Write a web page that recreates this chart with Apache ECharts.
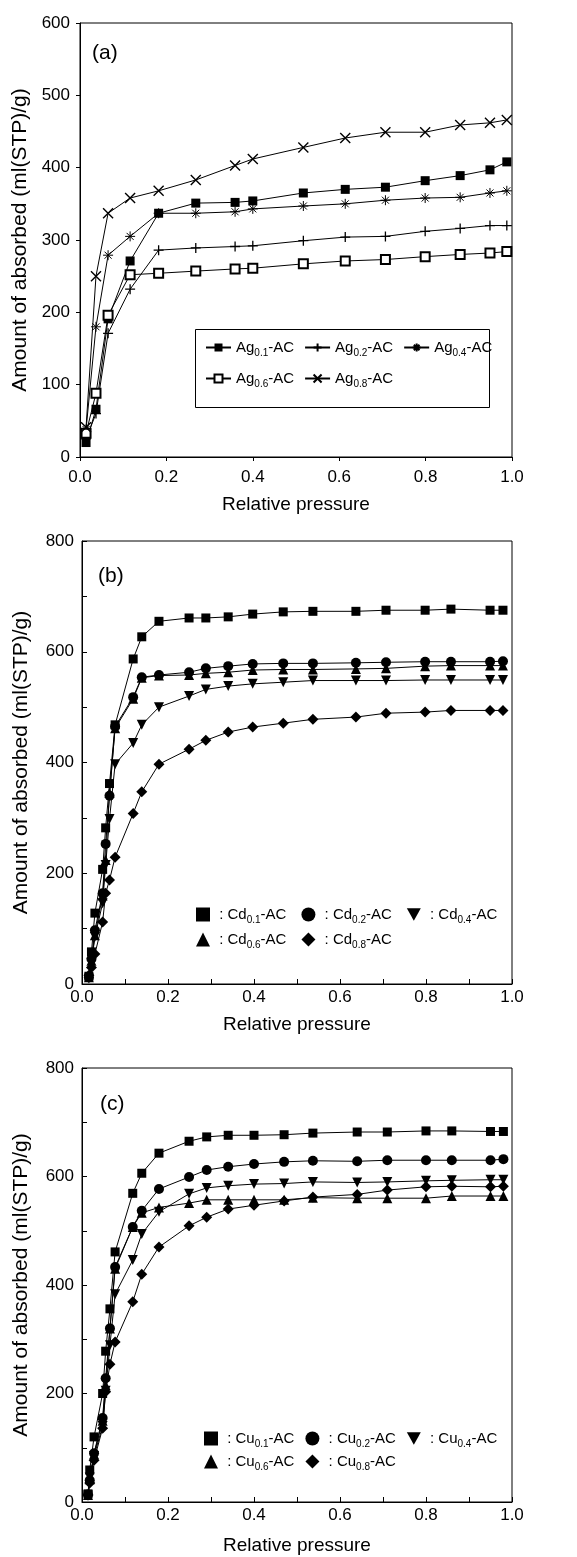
<!DOCTYPE html>
<html>
<head>
<meta charset="utf-8">
<script src="https://cdn.jsdelivr.net/npm/echarts@6/dist/echarts.min.js"></script>
<style>
  html, body { margin: 0; padding: 0; background: #fff; }
  #chart { width: 577px; height: 1557px; }
</style>
</head>
<body>
<div id="chart"></div>
<script>
// (a) Ag series
const agP = [0.014, 0.037, 0.065, 0.116, 0.182, 0.268, 0.359, 0.40, 0.517, 0.614, 0.707, 0.799, 0.88, 0.949, 0.988];
const ag01 = [20, 66, 191, 271, 337, 351, 352, 354, 365, 370, 373, 382, 389, 397, 408];
const ag02 = [25, 60, 171, 232, 286, 289, 291, 292, 299, 304, 305, 312, 316, 320, 320];
const ag04 = [38, 180, 279, 305, 337, 337, 339, 343, 347, 350, 355, 358, 359, 365, 368];
const ag06 = [33, 88, 196, 252, 254, 257, 260, 261, 267, 271, 273, 277, 280, 282, 284];
const ag08 = [41, 250, 337, 358, 368, 383, 403, 412, 428, 441, 449, 449, 459, 462, 466];

// (b) Cd series
const cdP = [0.016, 0.022, 0.03, 0.048, 0.055, 0.064, 0.077, 0.119, 0.139, 0.179, 0.249, 0.288, 0.34, 0.397, 0.468, 0.537, 0.637, 0.707, 0.798, 0.858, 0.949, 0.979];
const cd01 = [14, 58, 128, 207, 282, 362, 468, 587, 627, 655, 661, 661, 663, 668, 672, 673, 673, 675, 675, 677, 675, 675];
const cd02 = [12, 45, 97, 164, 253, 340, 465, 518, 554, 558, 563, 570, 574, 578, 579, 579, 580, 581, 582, 582, 582, 583];
const cd04 = [10, 38, 85, 146, 215, 298, 397, 435, 468, 500, 520, 532, 538, 542, 545, 548, 548, 548, 549, 549, 549, 549];
const cd06 = [12, 42, 88, 160, 224, 345, 462, 515, 553, 557, 558, 561, 563, 567, 568, 568, 569, 570, 574, 575, 575, 575];
const cd08 = [16, 30, 54, 112, 164, 188, 229, 308, 347, 397, 424, 440, 455, 464, 471, 478, 482, 489, 491, 494, 494, 494];

// (c) Cu series
const cuP = [0.014, 0.018, 0.028, 0.048, 0.055, 0.065, 0.077, 0.118, 0.139, 0.179, 0.249, 0.29, 0.34, 0.40, 0.47, 0.537, 0.64, 0.71, 0.80, 0.86, 0.95, 0.98];
const cu01 = [15, 59, 120, 200, 278, 356, 461, 569, 606, 643, 665, 673, 676, 676, 677, 680, 682, 682, 684, 684, 683, 683];
const cu02 = [14, 40, 90, 155, 228, 320, 433, 507, 537, 577, 599, 612, 618, 623, 627, 629, 628, 630, 630, 630, 630, 632];
const cu04 = [12, 45, 85, 140, 205, 289, 383, 446, 494, 535, 568, 579, 583, 586, 587, 590, 589, 590, 592, 593, 594, 594];
const cu06 = [13, 42, 88, 150, 215, 320, 430, 507, 533, 543, 551, 557, 557, 557, 557, 561, 560, 560, 560, 564, 564, 564];
const cu08 = [13, 35, 77, 136, 203, 254, 295, 369, 420, 470, 509, 525, 540, 547, 555, 562, 567, 575, 581, 582, 581, 582];

const xTitle = "Relative pressure";
const yTitle = "Amount of absorbed (ml(STP)/g)";

const PLUS = "path://M0,5L10,5M5,0L5,10";
const CROSS = "path://M0,0L10,10M10,0L0,10";
const STAR = "path://M0,5L10,5M5,0L5,10M1.5,1.5L8.5,8.5M8.5,1.5L1.5,8.5";
const DOWN = "path://M0,0L10,0L5,9Z";

const FONT = "Liberation Sans";

function zip(xs, ys) {
  return xs.map((x, i) => [x, ys[i]]);
}

function line(name, idx, xs, ys, symbol, size, extra) {
  return Object.assign({
    name: name,
    type: "line",
    xAxisIndex: idx,
    yAxisIndex: idx,
    data: zip(xs, ys),
    symbol: symbol,
    symbolSize: size,
    showAllSymbol: true,
    animation: false,
    lineStyle: { color: "#000", width: 1 },
    itemStyle: { color: "#000", borderColor: "#000", borderWidth: 0 },
  }, extra || {});
}

function xAxis(idx, inside, margin, nameGap) {
  return {
    gridIndex: idx, type: "value", min: 0, max: 1, interval: 0.2,
    axisLine: { show: true, lineStyle: { color: "#000", width: 1 } },
    axisTick: { show: true, inside: inside, length: inside ? 5 : 4, lineStyle: { color: "#000" } },
    minorTick: { show: inside, splitNumber: 2, length: 5, lineStyle: { color: "#000" } },
    axisLabel: { color: "#000", fontSize: 17, fontFamily: FONT, margin: margin, formatter: (v) => v.toFixed(1) },
    splitLine: { show: false },
    name: xTitle, nameLocation: "middle", nameGap: nameGap,
    nameTextStyle: { color: "#000", fontSize: 19, fontFamily: FONT },
  };
}

function yAxis(idx, max, interval, inside, margin, nameGap) {
  return {
    gridIndex: idx, type: "value", min: 0, max: max, interval: interval,
    axisLine: { show: true, lineStyle: { color: "#000", width: 1 } },
    axisTick: { show: true, inside: inside, length: inside ? 5 : 4, lineStyle: { color: "#000" } },
    minorTick: { show: inside, splitNumber: 2, length: 5, lineStyle: { color: "#000" } },
    axisLabel: { color: "#000", fontSize: 17, fontFamily: FONT, margin: margin },
    splitLine: { show: false },
    name: yTitle, nameLocation: "middle", nameGap: nameGap,
    nameTextStyle: { color: "#000", fontSize: 21, fontFamily: FONT },
  };
}

const rich = {
  n: { fontSize: 15, lineHeight: 22, fontFamily: FONT, color: "#000" },
  s: { fontSize: 10, lineHeight: 10, verticalAlign: "bottom", fontFamily: FONT, color: "#000" },
};

function subName(name, prefix) {
  const el = name.slice(0, 2);
  const sub = name.slice(2, name.indexOf("-"));
  return "{n|" + prefix + el + "}{s|" + sub + "}{n|-AC}";
}

function legend(data, left, top, gap, iw, ih, prefix) {
  return {
    data: data, left: left, top: top, orient: "horizontal",
    padding: 0, itemGap: gap, itemWidth: iw, itemHeight: ih,
    selectedMode: false,
    formatter: (n) => subName(n, prefix),
    textStyle: { rich: rich, fontFamily: FONT },
  };
}

const option = {
  backgroundColor: "#fff",
  animation: false,
  textStyle: { fontFamily: FONT },
  title: [
    { text: "(a)", left: 92, top: 43, textStyle: { fontSize: 21, fontWeight: "normal", color: "#000", fontFamily: FONT }, padding: 0 },
    { text: "(b)", left: 98, top: 566, textStyle: { fontSize: 21, fontWeight: "normal", color: "#000", fontFamily: FONT }, padding: 0 },
    { text: "(c)", left: 100, top: 1094, textStyle: { fontSize: 21, fontWeight: "normal", color: "#000", fontFamily: FONT }, padding: 0 },
  ],
  grid: [
    { left: 80, top: 23, width: 432, height: 434, show: true, borderColor: "#000", borderWidth: 1 },
    { left: 82, top: 541, width: 430, height: 443, show: true, borderColor: "#000", borderWidth: 1 },
    { left: 82, top: 1068, width: 430, height: 434, show: true, borderColor: "#000", borderWidth: 1 },
  ],
  xAxis: [xAxis(0, false, 12, 38), xAxis(1, true, 5, 31), xAxis(2, true, 5, 34)],
  yAxis: [yAxis(0, 600, 100, false, 10, 43), yAxis(1, 800, 200, true, 8, 50), yAxis(2, 800, 200, true, 8, 50)],
  legend: [
    legend(["Ag0.1-AC", "Ag0.2-AC", "Ag0.4-AC"], 205, 340, 10, 25, 10, ""),
    legend(["Ag0.6-AC", "Ag0.8-AC"], 205, 371, 10, 25, 10, ""),
    legend([{ name: "Cd0.1-AC", icon: "rect" }, { name: "Cd0.2-AC", icon: "circle" }, { name: "Cd0.4-AC", icon: DOWN }], 196, 907, 15, 14, 14, " : "),
    legend([{ name: "Cd0.6-AC", icon: "triangle" }, { name: "Cd0.8-AC", icon: "diamond" }], 196, 932, 15, 14, 14, " : "),
    legend([{ name: "Cu0.1-AC", icon: "rect" }, { name: "Cu0.2-AC", icon: "circle" }, { name: "Cu0.4-AC", icon: DOWN }], 204, 1431, 11, 14, 14, " : "),
    legend([{ name: "Cu0.6-AC", icon: "triangle" }, { name: "Cu0.8-AC", icon: "diamond" }], 204, 1454, 11, 14, 14, " : "),
  ],
  graphic: [
    { type: "rect", left: 195, top: 329, shape: { width: 294, height: 78 }, style: { fill: "transparent", stroke: "#000", lineWidth: 1 }, silent: true },
  ],
  series: [
    line("Ag0.1-AC", 0, agP, ag01, "rect", 9),
    line("Ag0.2-AC", 0, agP, ag02, PLUS, 10, { itemStyle: { color: "#000", borderColor: "#000", borderWidth: 1.3 } }),
    line("Ag0.4-AC", 0, agP, ag04, STAR, 10, { itemStyle: { color: "#000", borderColor: "#000", borderWidth: 1 } }),
    line("Ag0.6-AC", 0, agP, ag06, "emptyRect", 9, { itemStyle: { color: "#000", borderColor: "#000", borderWidth: 1.2 } }),
    line("Ag0.8-AC", 0, agP, ag08, CROSS, 10, { itemStyle: { color: "#000", borderColor: "#000", borderWidth: 1.4 } }),

    line("Cd0.1-AC", 1, cdP, cd01, "rect", 9),
    line("Cd0.2-AC", 1, cdP, cd02, "circle", 10),
    line("Cd0.4-AC", 1, cdP, cd04, DOWN, 10),
    line("Cd0.6-AC", 1, cdP, cd06, "triangle", 10),
    line("Cd0.8-AC", 1, cdP, cd08, "diamond", 11),

    line("Cu0.1-AC", 2, cuP, cu01, "rect", 9),
    line("Cu0.2-AC", 2, cuP, cu02, "circle", 10),
    line("Cu0.4-AC", 2, cuP, cu04, DOWN, 10),
    line("Cu0.6-AC", 2, cuP, cu06, "triangle", 10),
    line("Cu0.8-AC", 2, cuP, cu08, "diamond", 11),
  ],
};

const chart = echarts.init(document.getElementById("chart"), null, { renderer: "canvas" });
chart.setOption(option);
</script>
</body>
</html>
